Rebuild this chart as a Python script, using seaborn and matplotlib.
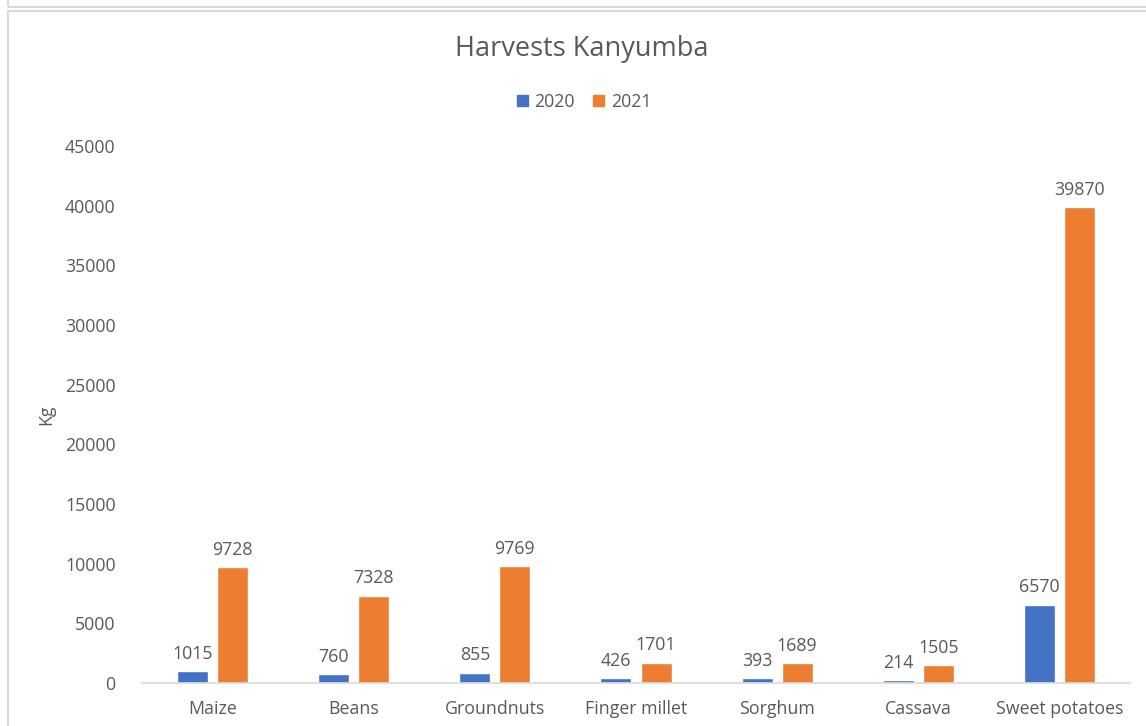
import numpy as np
import pandas as pd
import matplotlib
matplotlib.use("Agg")
import matplotlib.pyplot as plt
from matplotlib.patches import Rectangle
import seaborn as sns

# values
crops = ["Maize", "Beans", "Groundnuts", "Finger millet", "Sorghum", "Cassava", "Sweet potatoes"]
harvest_2020 = [1015, 760, 855, 426, 393, 214, 6570]
harvest_2021 = [9728, 7328, 9769, 1701, 1689, 1505, 39870]
years = ["2020", "2021"]
y_ticks = list(range(0, 45001, 5000))

df = pd.DataFrame({
    "crop": crops * 2,
    "year": [years[0]] * len(crops) + [years[1]] * len(crops),
    "kg": harvest_2020 + harvest_2021,
})

sns.set_style("white")
plt.rcParams["font.family"] = ["Open Sans", "DejaVu Sans"]
grey = "#595959"
fs = 12.8

W, H = 1146, 726
fig = plt.figure(figsize=(W / 100, H / 100), dpi=100)
ax = fig.add_axes([142 / W, 1 - 683 / H, (1130 - 142) / W, (683 - 146) / H])

sns.barplot(data=df, x="crop", y="kg", hue="year", order=crops, hue_order=years,
            palette=["#4472C4", "#ED7D31"], width=0.567, gap=0.225,
            saturation=1, ax=ax, legend=False)

# data labels
for cont in ax.containers:
    ax.bar_label(cont, labels=[f"{int(v)}" for v in cont.datavalues], padding=6,
                 color=grey, fontsize=fs)

ax.set_ylim(0, 45000)
ax.set_yticks(y_ticks)
ax.set_yticklabels([str(t) for t in y_ticks])
ax.set_xlim(-0.5, len(crops) - 0.5)
ax.tick_params(axis="both", length=0, colors=grey, labelsize=fs)
ax.tick_params(axis="y", pad=19)
ax.tick_params(axis="x", pad=12)
ax.set_xlabel("")
ax.set_ylabel("Kg", color=grey, fontsize=fs)
ax.yaxis.set_label_coords(-0.088, 0.5)
for s in ["top", "right", "left"]:
    ax.spines[s].set_visible(False)
ax.spines["bottom"].set_color("#d9d9d9")
ax.spines["bottom"].set_linewidth(1.2)

fig.text(582 / W, 1 - 49 / H, "Harvests Kanyumba", ha="center", va="center",
         fontsize=19.5, color=grey)

# legend
handles = [Rectangle((0, 0), 1, 1, color=c) for c in ["#4472C4", "#ED7D31"]]
fig.legend(handles, years, loc="center", bbox_to_anchor=(584 / W, 1 - 102 / H), ncol=2,
           frameon=False, handlelength=0.6, handleheight=0.6, handletextpad=0.4,
           columnspacing=1.0, labelcolor=grey, fontsize=fs)

# chart frame borders
fig.add_artist(Rectangle((8 / W, 1 - 7 / H), 1.0, 0.02, transform=fig.transFigure,
                         fill=False, edgecolor="#d9d9d9", linewidth=1.5))
fig.add_artist(Rectangle((8 / W, -0.02), 1.0, 1 - 11 / H + 0.02, transform=fig.transFigure,
                         fill=False, edgecolor="#d9d9d9", linewidth=1.5))

fig.savefig("out.png", dpi=100)
